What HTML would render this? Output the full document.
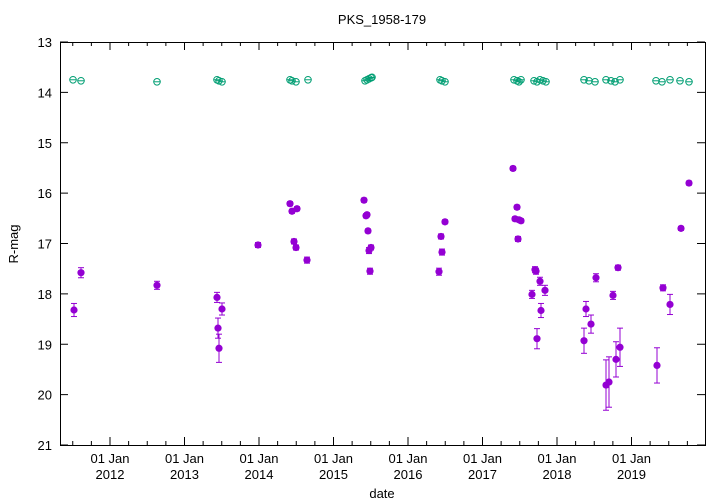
<!DOCTYPE html>
<html><head><style>body{margin:0;background:#fff}svg{display:block;font-family:"Liberation Sans",sans-serif}</style></head>
<body>
<svg id="s" width="720" height="504" xmlns="http://www.w3.org/2000/svg">
<rect width="720" height="504" fill="#fff"/>
<text x="382" y="24" font-size="13" text-anchor="middle">PKS_1958-179</text>
<g id="ax" stroke="#000" stroke-width="1" fill="none"></g>
<g id="lbl" font-size="13" fill="#000"></g>
<g id="pts"></g>
<rect x="60.5" y="42.5" width="645" height="403" fill="none" stroke="#000" stroke-width="1"/>
<text x="382" y="498" font-size="13" text-anchor="middle">date</text>
<text x="18" y="244" font-size="13" text-anchor="middle" transform="rotate(-90 18 244)">R-mag</text>
</svg>
<script>
var NS="http://www.w3.org/2000/svg";
function el(p,t,a,txt){var e=document.createElementNS(NS,t);for(var k in a)e.setAttribute(k,a[k]);if(txt)e.textContent=txt;document.getElementById(p).appendChild(e);return e;}
function Y(m){return 42+(m-13)*50.375;}
for(var m=13;m<=21;m++){var y=Y(m);el('ax','line',{x1:60,y1:y,x2:68,y2:y});el('ax','line',{x1:705,y1:y,x2:697,y2:y});
el('lbl','text',{x:52,y:y+5,'text-anchor':'end'},String(m));}
var yrs=[110,184.5,259,333.5,408,482.5,557,631.5];
for(var i=0;i<yrs.length;i++){var x=yrs[i];el('ax','line',{x1:x,y1:445,x2:x,y2:437});el('ax','line',{x1:x,y1:42,x2:x,y2:50});
el('lbl','text',{x:x,y:463,'text-anchor':'middle'},'01 Jan');el('lbl','text',{x:x,y:479,'text-anchor':'middle'},String(2012+i));}
for(var x=110-74.5;x<710;x+=18.625){if(x<61||x>704)continue;el('ax','line',{x1:x,y1:445,x2:x,y2:441});el('ax','line',{x1:x,y1:42,x2:x,y2:46});}
var P=[[74,18.32,.13],[81,17.58,.1],[157,17.83,.08],[217,18.07,.1],[218,18.68,.2],[219,19.08,.28],[222,18.30,.12],[258,17.03,.05],[290,16.21,.04],[292,16.36,.04],[294,16.96,.05],[296,17.08,.05],[297,16.31,.04],[307,17.33,.06],[364,16.14,.04],[366,16.45,.04],[367,16.43,.04],[368,16.75,.04],[369,17.14,.06],[371,17.08,.05],[370,17.55,.06],[439,17.56,.07],[441,16.86,.05],[442,17.17,.06],[445,16.57,.04],[513,15.51,.04],[515,16.51,.04],[517,16.28,.04],[518,16.91,.05],[519,16.53,.04],[521,16.55,.04],[532,18.01,.08],[535,17.52,.06],[536,17.55,.06],[537,18.89,.2],[540,17.75,.08],[541,18.33,.14],[545,17.93,.1],[584,18.93,.25],[586,18.30,.15],[591,18.60,.18],[596,17.68,.08],[606,19.81,.5],[609,19.75,.5],[613,18.03,.08],[616,19.30,.35],[618,17.48,.05],[620,19.06,.38],[657,19.42,.35],[663,17.88,.06],[670,18.21,.2],[681,16.70,.04],[689,15.80,.04]];
P.forEach(function(p){var y=Y(p[1]),e=p[2]*50.375;var c='#9400d3';
el('pts','line',{x1:p[0],y1:y-e,x2:p[0],y2:y+e,stroke:c,'stroke-width':1});
el('pts','line',{x1:p[0]-3,y1:y-e,x2:p[0]+3,y2:y-e,stroke:c});
el('pts','line',{x1:p[0]-3,y1:y+e,x2:p[0]+3,y2:y+e,stroke:c});
el('pts','circle',{cx:p[0],cy:y,r:3.6,fill:c});});
var G=[73,81,157,217,219,222,290,292,296,308,365,367,369,371,372,440,442,445,514,517,519,521,534,537,540,543,546,584,589,595,606,611,615,620,656,662,670,680,689];
G.forEach(function(x,i){var m=13.77+((i%3)-1)*0.02;if(x>=365&&x<=372)m=13.77-(x-365)*0.01;var y=Y(m);
el('pts','circle',{cx:x,cy:y,r:3.3,fill:'none',stroke:'#009e73','stroke-width':1});
el('pts','line',{x1:x-3,y1:y,x2:x+3,y2:y,stroke:'#009e73','stroke-width':1});});
</script>
</body></html>
